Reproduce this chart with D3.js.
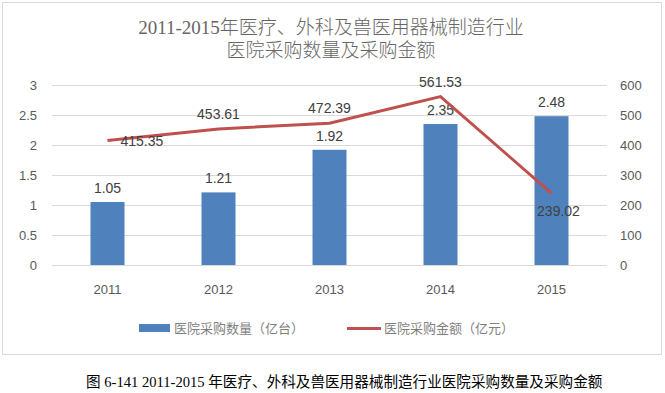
<!DOCTYPE html>
<html>
<head>
<meta charset="utf-8">
<script src="https://cdn.jsdelivr.net/npm/d3@7"></script>
<style>
  body { margin: 0; background: #fff; }
  text { font-family: "Liberation Sans", "Noto Sans CJK SC", sans-serif; }
</style>
</head>
<body>
<svg id="chart"></svg>
<script>
// ---- DATA ----
const years = ['2011', '2012', '2013', '2014', '2015'];
const quantity = [1.05, 1.21, 1.92, 2.35, 2.48];          // 亿台
const amount = [415.35, 453.61, 472.39, 561.53, 239.02];  // 亿元
const amountLabelPos = ['right', 'above', 'above', 'above', 'below'];
const leftTicks = [0, 0.5, 1, 1.5, 2, 2.5, 3];
const rightTicks = [0, 100, 200, 300, 400, 500, 600];
const titleLines = ['2011-2015年医疗、外科及兽医用器械制造行业', '医院采购数量及采购金额'];
const seriesNames = ['医院采购数量（亿台）', '医院采购金额（亿元）'];
const caption = '图 6-141 2011-2015 年医疗、外科及兽医用器械制造行业医院采购数量及采购金额';

const W = 665, H = 393;
const margin = {top: 85, left: 52, right: 58, bottom: 128};
const width = W - margin.left - margin.right;
const height = H - margin.top - margin.bottom;

const svg = d3.select('#chart').attr('width', W).attr('height', H);

// frame
svg.append('rect')
  .attr('x', 2.5).attr('y', 2.5)
  .attr('width', 659).attr('height', 352)
  .attr('fill', '#fff')
  .attr('stroke', '#d9d9d9');

// title
svg.append('g').selectAll('text')
  .data(titleLines)
  .join('text')
  .attr('x', 331)
  .attr('y', (d, i) => 34 + i * 23)
  .attr('text-anchor', 'middle')
  .attr('fill', '#666')
  .style('font-family', '"Liberation Serif", "Noto Sans CJK SC", serif')
  .style('font-size', '19px')
  .style('font-weight', 300)
  .text(d => d);

const chart = svg.append('g')
  .attr('transform', `translate(${margin.left}, ${margin.top})`);

const x = d3.scaleBand().domain(years).range([0, width]);
const yL = d3.scaleLinear().domain([0, 3]).range([height, 0]);
const yR = d3.scaleLinear().domain([0, 600]).range([height, 0]);

// gridlines
chart.append('g')
  .call(d3.axisLeft(yL).tickValues(leftTicks).tickSize(-width).tickFormat(''))
  .call(g => g.select('.domain').remove())
  .call(g => g.selectAll('line').attr('stroke', '#d9d9d9'));

// left axis labels
chart.append('g')
  .call(d3.axisLeft(yL).tickValues(leftTicks).tickSize(0).tickPadding(15).tickFormat(d3.format('')))
  .call(g => g.select('.domain').remove())
  .call(g => g.selectAll('text').attr('fill', '#595959').style('font-size', '13px'));

// right axis labels
chart.append('g')
  .attr('transform', `translate(${width}, 0)`)
  .call(d3.axisRight(yR).tickValues(rightTicks).tickSize(0).tickPadding(13))
  .call(g => g.select('.domain').remove())
  .call(g => g.selectAll('text').attr('fill', '#595959').style('font-size', '13px'));

// x axis labels
chart.append('g')
  .attr('transform', `translate(0, ${height})`)
  .call(d3.axisBottom(x).tickSize(0).tickPadding(20))
  .call(g => g.select('.domain').remove())
  .call(g => g.selectAll('text').attr('fill', '#595959').style('font-size', '13px'));

// bars
const barW = 34;
chart.selectAll('.bar')
  .data(quantity)
  .join('rect')
  .attr('class', 'bar')
  .attr('x', (d, i) => x(years[i]) + x.bandwidth() / 2 - barW / 2)
  .attr('y', d => yL(d))
  .attr('width', barW)
  .attr('height', d => height - yL(d))
  .attr('fill', '#4f81bd');

chart.selectAll('.bar-label')
  .data(quantity)
  .join('text')
  .attr('class', 'bar-label')
  .attr('x', (d, i) => x(years[i]) + x.bandwidth() / 2)
  .attr('y', d => yL(d) - 9)
  .attr('text-anchor', 'middle')
  .attr('fill', '#404040')
  .style('font-size', '14px')
  .text(d => d.toFixed(2));

// line
const cx = (d, i) => x(years[i]) + x.bandwidth() / 2;
chart.append('path')
  .datum(amount)
  .attr('d', d3.line().x(cx).y(d => yR(d)))
  .attr('fill', 'none')
  .attr('stroke', '#c0504d')
  .attr('stroke-width', 3);

chart.selectAll('.line-label')
  .data(amount)
  .join('text')
  .attr('class', 'line-label')
  .attr('x', (d, i) => amountLabelPos[i] === 'right' ? cx(d, i) + 13 : cx(d, i) + (amountLabelPos[i] === 'below' ? 7 : 0))
  .attr('y', (d, i) => {
    const p = amountLabelPos[i];
    if (p === 'right') return yR(d) + 6;
    if (p === 'below') return yR(d) + 23;
    return yR(d) - 10;
  })
  .attr('text-anchor', (d, i) => amountLabelPos[i] === 'right' ? 'start' : 'middle')
  .attr('fill', '#404040')
  .style('font-size', '14px')
  .text(d => d.toFixed(2));

// legend
const legend = svg.append('g');
legend.append('rect')
  .attr('x', 139).attr('y', 324)
  .attr('width', 31).attr('height', 8)
  .attr('fill', '#4f81bd');
legend.append('line')
  .attr('x1', 347).attr('x2', 381)
  .attr('y1', 328.5).attr('y2', 328.5)
  .attr('stroke', '#c0504d')
  .attr('stroke-width', 3);
legend.selectAll('text')
  .data(seriesNames)
  .join('text')
  .attr('x', (d, i) => i === 0 ? 174 : 384)
  .attr('y', 333)
  .attr('fill', '#7f7f7f')
  .style('font-size', '13px')
  .text(d => d);

// caption
svg.append('text')
  .attr('x', 86)
  .attr('y', 387)
  .attr('fill', '#000')
  .style('font-family', '"Liberation Serif", "Noto Sans CJK SC", serif')
  .style('font-size', '14.6px')
  .text(caption);
</script>
</body>
</html>
